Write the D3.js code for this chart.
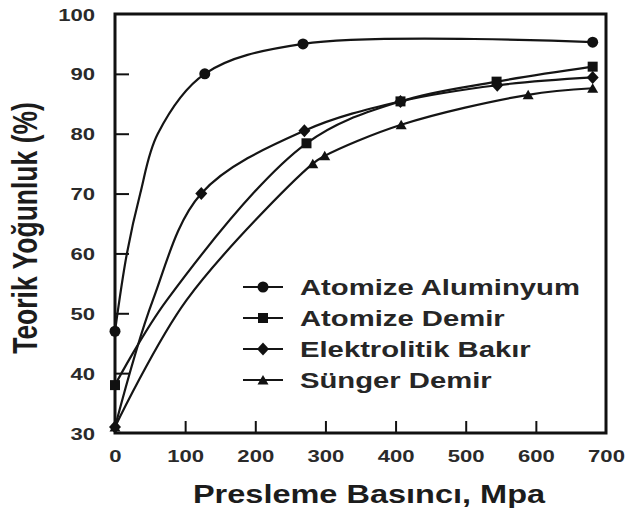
<!DOCTYPE html>
<html><head><meta charset="utf-8">
<script src="https://cdn.jsdelivr.net/npm/d3@7"></script>
<style>body{margin:0;background:#fff}svg{display:block}</style>
</head><body><svg id="c" width="630" height="519"></svg>
<script>
// ---- data ----
const xTicks = [0, 100, 200, 300, 400, 500, 600, 700];
const yTicks = [30, 40, 50, 60, 70, 80, 90, 100];
const xTitle = "Presleme Basıncı, Mpa";
const yTitle = "Teorik Yoğunluk (%)";
const seriesNames = ["Atomize Aluminyum", "Atomize Demir", "Elektrolitik Bakır", "Sünger Demir"];
const seriesSymbols = ["circle", "square", "diamond", "triangle"];

// marked data points (pressure MPa, density %)
const aluminyumX = [0, 128, 268, 681];
const aluminyumY = [47, 90, 95, 95.3];
const atomizeDemirX = [0, 273, 407, 544, 681];
const atomizeDemirY = [38, 78.4, 85.4, 88.7, 91.2];
const bakirX = [0, 123, 270, 407, 545, 681];
const bakirY = [31, 70, 80.5, 85.4, 88.1, 89.4];
const sungerX = [0, 282, 299, 408, 589, 681];
const sungerY = [31, 75, 76.3, 81.5, 86.5, 87.6];

// extra points (no markers)
const aluminyumTraceX = [17, 36, 61];
const aluminyumTraceY = [60, 70, 80];
const atomizeDemirTraceX = [74];
const atomizeDemirTraceY = [52.2];
const bakirTraceX = [54];
const bakirTraceY = [52.2];
const sungerTraceX = [102];
const sungerTraceY = [52.2];

// ---- build ----
const series = [
  {mx: aluminyumX, my: aluminyumY, tx: aluminyumTraceX, ty: aluminyumTraceY},
  {mx: atomizeDemirX, my: atomizeDemirY, tx: atomizeDemirTraceX, ty: atomizeDemirTraceY},
  {mx: bakirX, my: bakirY, tx: bakirTraceX, ty: bakirTraceY},
  {mx: sungerX, my: sungerY, tx: sungerTraceX, ty: sungerTraceY}
].map((s, i) => {
  const markers = s.mx.map((x, j) => ({x, y: s.my[j]}));
  const curve = markers.concat(s.tx.map((x, j) => ({x, y: s.ty[j]}))).sort((a, b) => a.x - b.x);
  return {name: seriesNames[i], symbol: seriesSymbols[i], markers, curve};
});

const L = 115, R = 606, T = 14, B = 433;
const x = d3.scaleLinear().domain([0, 700]).range([L, R]);
const y = d3.scaleLinear().domain([30, 100]).range([B, T]);
const SX = 1.3; // horizontal stretch of the lettering
const FONT = "'Liberation Sans', Arial, Helvetica, sans-serif";
const INK = "#1c1c1c";

const svg = d3.select("#c");

// axes
const gx = svg.append("g").attr("transform", `translate(0,${B})`)
  .call(d3.axisBottom(x).tickValues(xTicks).tickSizeInner(-12).tickSizeOuter(0).tickPadding(0));
const gy = svg.append("g").attr("transform", `translate(${L},0)`)
  .call(d3.axisLeft(y).tickValues(yTicks).tickSizeInner(-14).tickSizeOuter(0).tickPadding(0));
[gx, gy].forEach(g => {
  g.select(".domain").remove();
  g.selectAll(".tick line").attr("stroke", "#111").attr("stroke-width", 2)
    .filter((d, i, n) => i === 0 || i === n.length - 1).remove();
  g.selectAll(".tick text").attr("font-family", FONT).attr("font-weight", "bold")
    .attr("font-size", 17).attr("fill", "#2a2a2a");
});
gx.selectAll(".tick text").attr("dy", null).attr("y", 0)
  .attr("transform", `translate(0,29) scale(${SX},1)`);
gy.selectAll(".tick text").attr("dy", null).attr("x", 0)
  .attr("transform", `translate(-20,6) scale(${SX},1)`);

// plot border
svg.append("rect").attr("x", L).attr("y", T).attr("width", R - L).attr("height", B - T)
  .attr("fill", "none").attr("stroke", "#111").attr("stroke-width", 3);

// curves
const line = d3.line().x(d => x(d.x)).y(d => y(d.y)).curve(d3.curveCatmullRom.alpha(0.5));
svg.append("g").selectAll("path").data(series).join("path")
  .attr("d", d => line(d.curve)).attr("fill", "none")
  .attr("stroke", "#151515").attr("stroke-width", 2.2);

// marker shapes
const shapes = {
  circle: {draw(c) { c.moveTo(5.5, 0); c.arc(0, 0, 5.5, 0, 2 * Math.PI); }},
  square: {draw(c) { c.rect(-5, -5, 10, 10); }},
  diamond: {draw(c) { c.moveTo(0, -6.5); c.lineTo(6, 0); c.lineTo(0, 6.5); c.lineTo(-6, 0); c.closePath(); }},
  triangle: {draw(c) { c.moveTo(0, -5); c.lineTo(5.5, 4.5); c.lineTo(-5.5, 4.5); c.closePath(); }}
};
const sym = k => d3.symbol(shapes[k])();

series.forEach(s => {
  svg.append("g").selectAll("path").data(s.markers).join("path")
    .attr("transform", d => `translate(${x(d.x)},${y(d.y)})`)
    .attr("d", sym(s.symbol)).attr("fill", "#111");
});

// legend
const legY = [287, 318, 349, 380];
const lg = svg.append("g");
series.forEach((s, i) => {
  const g = lg.append("g").attr("transform", `translate(0,${legY[i]})`);
  g.append("line").attr("x1", 243).attr("x2", 283).attr("y1", 0).attr("y2", 0)
    .attr("stroke", "#151515").attr("stroke-width", 2.2);
  g.append("path").attr("transform", "translate(263,0)").attr("d", sym(s.symbol)).attr("fill", "#111");
  g.append("text").attr("transform", `translate(300,8) scale(${SX},1)`)
    .attr("font-family", FONT).attr("font-weight", "bold").attr("font-size", 22.5)
    .attr("fill", "#262626").text(s.name);
});

// titles
svg.append("text").attr("transform", `translate(369,503) scale(${SX},1)`)
  .attr("text-anchor", "middle").attr("font-family", FONT).attr("font-weight", "bold")
  .attr("font-size", 25).attr("fill", INK).text(xTitle);
svg.append("text").attr("transform", `translate(37,228) scale(${SX},1) rotate(-90)`)
  .attr("text-anchor", "middle").attr("font-family", FONT).attr("font-weight", "bold")
  .attr("font-size", 26.5).attr("fill", INK).text(yTitle);
</script>
</body></html>
